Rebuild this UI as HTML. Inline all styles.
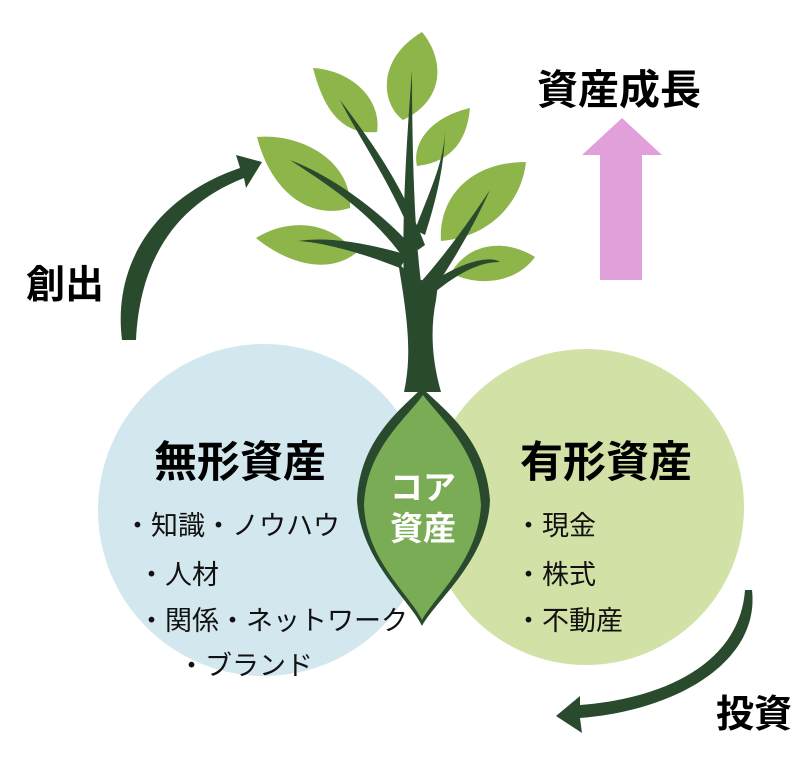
<!DOCTYPE html>
<html><head><meta charset="utf-8"><style>
body{margin:0;background:#fff;}
svg text{font-family:"Liberation Sans","Noto Sans CJK JP",sans-serif;}
</style></head><body>
<svg width="802" height="760" viewBox="0 0 802 760" xmlns="http://www.w3.org/2000/svg">
<circle cx="264" cy="510" r="166" fill="#d3e7ee"/>
<circle cx="586" cy="507" r="158" fill="#d2e1a6"/>
<g fill="#8db54a">
<path d="M422,32 C375,60 382,105 403,120 C445,100 445,60 422,32Z"/>
<path d="M313,68 C325,115 345,135 377,132 C382,98 350,70 313,68Z"/>
<path d="M257,137 C272,195 312,220 350,208 C352,160 300,133 257,137Z"/>
<path d="M256,238 C285,262 327,276 356,253 C330,220 288,218 256,238Z"/>
<path d="M470,108 C428,118 412,145 417,166 C452,162 467,140 470,108Z"/>
<path d="M526,162 C468,162 438,200 441,241 C492,237 522,200 526,162Z"/>
<path d="M535,257 C505,238 468,243 451,273 C480,288 517,282 535,257Z"/>
</g>
<g fill="#2a4a2e">
<path d="M404,290 C402,230 405,160 412,70 C412,160 415,240 422,290Z"/>
<path d="M418,250 C390,180 360,140 340,100 C370,140 400,180 425,245Z"/>
<path d="M405,260 C370,210 320,180 290,160 C330,175 380,210 415,250Z"/>
<path d="M400,268 C360,252 320,242 298,241 C330,236 370,244 408,255Z"/>
<path d="M415,230 C430,190 445,160 445,128 C445,160 438,195 425,235Z"/>
<path d="M418,285 C450,250 480,205 490,190 C480,212 460,252 432,292Z"/>
<path d="M428,285 C460,262 490,255 500,262 C480,262 460,272 435,292Z"/>
<path d="M398,262 C408,275 420,282 426,280 C436,275 440,270 440,268 L436,300 C430,330 432,360 441,392 L404,392 C412,355 408,320 398,262Z"/>
<path d="M422,388 C400,410 360,440 357,500 C360,560 410,600 422,626 C436,600 488,560 490,500 C486,440 445,410 422,388Z"/>
</g>
<path d="M423,395 C405,420 366,450 364,505 C366,560 410,595 422,620 C436,595 478,560 481,505 C478,450 442,420 423,395Z" fill="#7aab55"/>
<text x="423" y="499" font-size="33" font-weight="bold" fill="#fff" text-anchor="middle">コア</text>
<text x="423" y="540" font-size="33" font-weight="bold" fill="#fff" text-anchor="middle">資産</text>
<text x="240" y="477" font-size="43" font-weight="bold" text-anchor="middle">無形資産</text>
<text x="606" y="477" font-size="43" font-weight="bold" text-anchor="middle">有形資産</text>
<g font-size="27" fill="#111">
<text x="124" y="535">・知識・ノウハウ</text>
<text x="138" y="584">・人材</text>
<text x="138" y="630">・関係・ネットワーク</text>
<text x="178" y="675">・ブランド</text>
<text x="515" y="535">・現金</text>
<text x="515" y="584">・株式</text>
<text x="515" y="630">・不動産</text>
</g>
<text x="26" y="298" font-size="39" font-weight="bold">創出</text>
<text x="537" y="104" font-size="41" font-weight="bold">資産成長</text>
<text x="716" y="727" font-size="38" font-weight="bold">投資</text>
<path d="M600,280 L600,155 L582,155 L622,118 L662,155 L642,155 L642,280Z" fill="#e2a0da"/>
<path d="M122,340 C112,260 160,195 240,168 L236,155 L262,162 L246,188 L244,178 C175,205 140,260 136,340Z" fill="#2a4a2e"/>
<path d="M752,590 C760,660 680,710 580,718 L582,733 L556,716 L580,696 L580,705 C670,698 740,660 745,590Z" fill="#2a4a2e"/>
</svg>
</body></html>
